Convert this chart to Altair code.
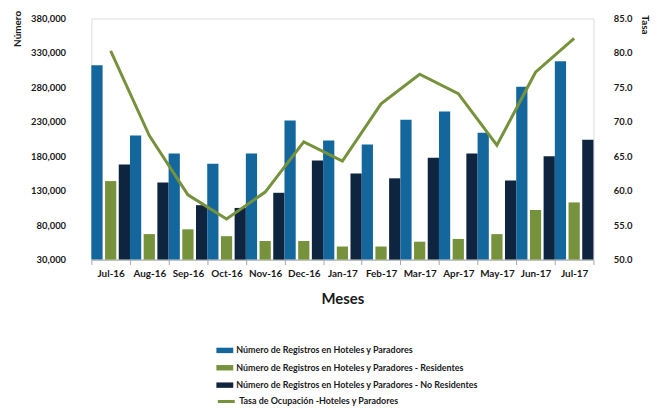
import altair as alt
import pandas as pd

months = ["Jul-16", "Aug-16", "Sep-16", "Oct-16", "Nov-16", "Dec-16", "Jan-17",
          "Feb-17", "Mar-17", "Apr-17", "May-17", "Jun-17", "Jul-17"]
total = [312000, 210000, 184000, 169000, 184000, 232000, 203000,
         197000, 233000, 245000, 214000, 281000, 318000]
residentes = [144000, 67000, 74000, 64000, 57000, 57000, 49000,
              49000, 56000, 60000, 67000, 102000, 113000]
no_residentes = [168000, 142000, 109000, 105000, 127000, 174000, 155000,
                 148000, 178000, 184000, 145000, 180000, 204000]
tasa = [80.3, 68.0, 59.4, 55.9, 59.8, 67.1, 64.3, 72.6, 76.9, 74.1, 66.6, 77.2, 82.1]

s_total = "Número de Registros en Hoteles y Paradores"
s_res = "Número de Registros en Hoteles y Paradores - Residentes"
s_nores = "Número de Registros en Hoteles y Paradores - No Residentes"
s_tasa = "Tasa de Ocupación -Hoteles y Paradores"
series = [s_total, s_res, s_nores]
colors = ["#14679d", "#76923c", "#0f243e"]

rows = []
for i, m in enumerate(months):
    for s, vals in zip(series, [total, residentes, no_residentes]):
        rows.append({"mes": m, "serie": s, "valor": vals[i]})
bars_df = pd.DataFrame(rows)
line_df = pd.DataFrame({"mes": months, "tasa": tasa, "serie": [s_tasa] * len(months)})

FONT = "Lato"
x_enc = alt.X("mes:N", sort=months,
              scale=alt.Scale(paddingInner=0, paddingOuter=0),
              axis=alt.Axis(title="Meses", tickBand="extent", labelAngle=0,
                            labelFontSize=10, labelFontWeight="bold", labelColor="#1a1a1a",
                            labelPadding=4, tickColor="#a6a6a6", tickSize=5,
                            domainColor="#a6a6a6", titleFontSize=15, titleFontWeight="bold",
                            titleColor="#1a1a1a", titlePadding=13))

bars = alt.Chart(bars_df).mark_bar().encode(
    x=x_enc,
    xOffset=alt.XOffset("serie:N", sort=series,
                        scale=alt.Scale(paddingInner=0.18, paddingOuter=0)),
    y=alt.Y("valor:Q",
            scale=alt.Scale(domain=[30000, 380000], zero=False, nice=False),
            axis=alt.Axis(title="Número", values=list(range(30000, 380001, 50000)),
                          format=",.0f", ticks=False, domain=False, grid=False,
                          labelFontSize=9.5, labelFontWeight="bold", labelColor="#1a1a1a",
                          labelPadding=26, titleAngle=-90, titleX=-74, titleY=10,
                          titleAlign="center", titleBaseline="middle",
                          titleFontSize=10, titleFontWeight="bold", titleColor="#1a1a1a")),
    y2=alt.datum(30000),
    color=alt.Color("serie:N", sort=series,
                    scale=alt.Scale(domain=series, range=colors),
                    legend=alt.Legend(title=None, orient="none", legendX=126, legendY=326,
                                      symbolType="M-1,-0.32L1,-0.32L1,0.32L-1,0.32Z",
                                      symbolSize=289, symbolStrokeWidth=0,
                                      labelFontSize=9, labelFontWeight="bold",
                                      labelColor="#1a1a1a", labelLimit=500,
                                      rowPadding=3.5, symbolOffset=0, labelOffset=3)),
)

line = alt.Chart(line_df).mark_line(strokeWidth=3).encode(
    x=alt.X("mes:N", sort=months),
    y=alt.Y("tasa:Q",
            scale=alt.Scale(domain=[50, 85], zero=False, nice=False),
            axis=alt.Axis(title="Tasa", orient="right", values=[50, 55, 60, 65, 70, 75, 80, 85],
                          format=".1f", ticks=False, domain=False, grid=False,
                          labelFontSize=9.5, labelFontWeight="bold", labelColor="#1a1a1a",
                          labelPadding=20, titleAngle=90, titleX=51, titleY=6,
                          titleAlign="center", titleBaseline="middle",
                          titleFontSize=10, titleFontWeight="bold", titleColor="#1a1a1a")),
    stroke=alt.Stroke("serie:N", scale=alt.Scale(domain=[s_tasa], range=["#76923c"]),
                      legend=alt.Legend(title=None, orient="none", legendX=126, legendY=376,
                                        symbolType="stroke", symbolSize=289,
                                        symbolStrokeWidth=3,
                                        labelFontSize=9, labelFontWeight="bold",
                                        labelColor="#1a1a1a", labelLimit=500, labelOffset=3)),
)

chart = alt.layer(bars, line).resolve_scale(
    y="independent", color="independent", stroke="independent"
).properties(
    width=506, height=243,
    autosize=alt.AutoSizeParams(type="none"),
    padding={"left": 84, "top": 9, "right": 60, "bottom": 150},
).configure_view(stroke="#bfbfbf", strokeWidth=1).configure(font=FONT)

chart.save("out.html", embed_options={"renderer": "svg", "actions": False})
